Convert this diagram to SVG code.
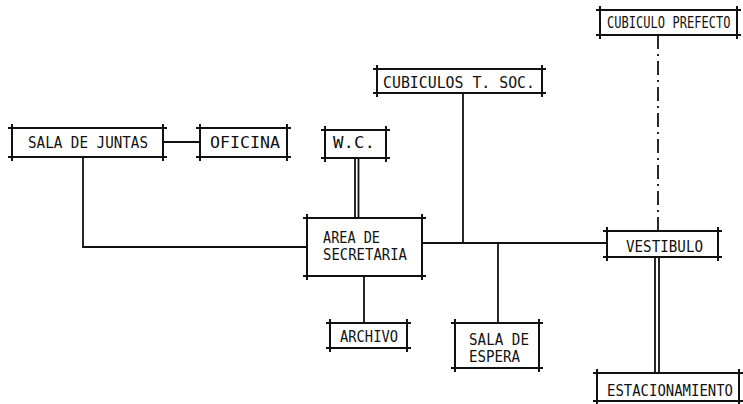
<svg xmlns="http://www.w3.org/2000/svg" width="743" height="404" viewBox="0 0 743 404">
<style>
.b{fill:none;stroke:#111;stroke-width:2;stroke-linecap:square}
.c{fill:none;stroke:#111;stroke-width:1.8}
.t{font-family:"DejaVu Sans Mono","Liberation Mono",monospace;font-size:15px;fill:#111}
</style>
<rect width="743" height="404" fill="#fff"/>
<g id="connectors">
<path class="c" d="M163 142H200"/>
<path class="c" d="M83 157V247H307"/>
<path class="c" d="M355 158V218M358.5 158V218"/>
<path class="c" d="M463 93V243"/>
<path class="c" d="M422 243H607"/>
<path class="c" d="M498 243V323"/>
<path class="c" d="M364 276V323"/>
<path class="c" d="M658 35V231" stroke-dasharray="14 5 2 5"/>
<path class="c" d="M655 257V373M659 257V373"/>
</g>
<g id="sala-juntas"><path class="b" d="M9 128H166M9 157H166M12 125V160M163 125V160"/><text class="t" x="28" y="148" textLength="120" lengthAdjust="spacingAndGlyphs">SALA DE JUNTAS</text></g>
<g id="oficina"><path class="b" d="M197 128H290M197 157H290M200 125V160M287 125V160"/><text class="t" x="210" y="148" textLength="70" lengthAdjust="spacingAndGlyphs">OFICINA</text></g>
<g id="wc"><path class="b" d="M322 130H389M322 158H389M325 127V161M386 127V161"/><text class="t" x="333" y="148" textLength="42" lengthAdjust="spacingAndGlyphs">W.C.</text></g>
<g id="cubiculos"><path class="b" d="M374 69H545M374 93H545M377 66V96M542 66V96"/><text class="t" x="383" y="88" textLength="152" lengthAdjust="spacingAndGlyphs">CUBICULOS T. SOC.</text></g>
<g id="prefecto"><path class="b" d="M597 10H740M597 35H740M600 7V38M737 7V38"/><text class="t" transform="translate(607 28) scale(0.805 1)">CUBICULO PREFECTO</text></g>
<g id="secretaria"><path class="b" d="M304 218H425M304 276H425M307 215V279M422 215V279"/><text class="t" x="323" y="243" textLength="57" lengthAdjust="spacingAndGlyphs">AREA DE</text><text class="t" x="323" y="260" textLength="84" lengthAdjust="spacingAndGlyphs">SECRETARIA</text></g>
<g id="vestibulo"><path class="b" d="M604 231H721M604 257H721M607 228V260M718 228V260"/><text class="t" x="626" y="252" textLength="77" lengthAdjust="spacingAndGlyphs">VESTIBULO</text></g>
<g id="archivo"><path class="b" d="M327 323H410M327 348H410M330 320V351M407 320V351"/><text class="t" x="340" y="342" textLength="58" lengthAdjust="spacingAndGlyphs">ARCHIVO</text></g>
<g id="sala-espera"><path class="b" d="M452 323H542M452 368H542M455 320V371M539 320V371"/><text class="t" x="469" y="345" textLength="60" lengthAdjust="spacingAndGlyphs">SALA DE</text><text class="t" x="469" y="362" textLength="51" lengthAdjust="spacingAndGlyphs">ESPERA</text></g>
<g id="estacionamiento"><path class="b" d="M594 373H742M594 401H742M597 370V404M739 370V404"/><text class="t" x="607" y="396" textLength="126" lengthAdjust="spacingAndGlyphs">ESTACIONAMIENTO</text></g>
</svg>
